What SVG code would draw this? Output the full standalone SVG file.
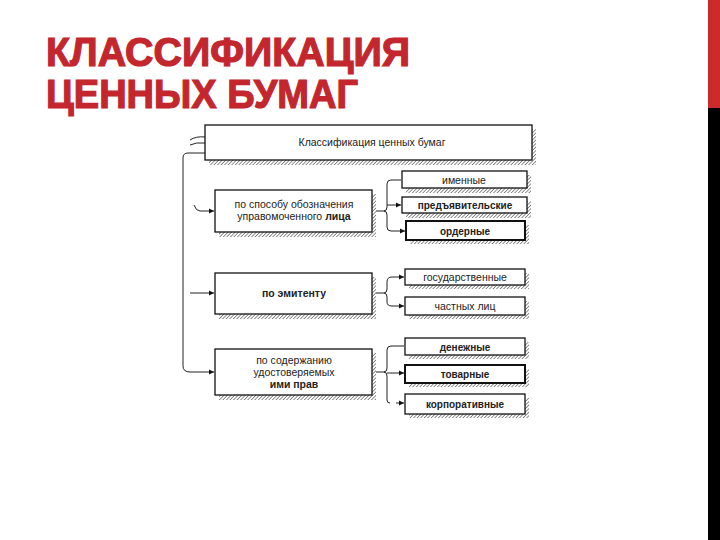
<svg xmlns="http://www.w3.org/2000/svg" width="720" height="540" viewBox="0 0 720 540">
<defs>
<pattern id="hatch" width="2.5" height="2.5" patternUnits="userSpaceOnUse" patternTransform="rotate(45)">
<rect width="2.5" height="2.5" fill="#fff"/>
<line x1="0" y1="0" x2="0" y2="2.5" stroke="#333" stroke-width="1.1"/>
</pattern>
<marker id="arr" markerWidth="6" markerHeight="6" refX="5" refY="3" orient="auto" markerUnits="userSpaceOnUse">
<path d="M0,0.5 L5,3 L0,5.5 Z" fill="#111"/>
</marker>
<style>
.box{fill:#fff;stroke:#111;stroke-width:1.3}
.thick{stroke-width:2}
.sh{fill:url(#hatch)}
.t{font-family:"Liberation Sans",Arial,sans-serif;font-size:10.5px;fill:#222;text-anchor:middle}
.s{font-size:10px}
.b{font-weight:bold}
.c{fill:none;stroke:#222;stroke-width:1}
.title{font-family:"Liberation Sans",Arial,sans-serif;font-weight:bold;font-size:40px;fill:#c4262e;stroke:#c4262e;stroke-width:1.2}
</style>
</defs>
<rect width="720" height="540" fill="#fff"/>
<rect x="708" y="0" width="12" height="108" fill="#cc2b2b"/>
<rect x="708" y="108" width="12" height="432" fill="#000"/>
<g id="title">
<text class="title" x="46" y="66" textLength="364" lengthAdjust="spacingAndGlyphs">КЛАССИФИКАЦИЯ</text>
<text class="title" x="46" y="108" textLength="312" lengthAdjust="spacingAndGlyphs">ЦЕННЫХ БУМАГ</text>
</g>
<g id="connectors">
<path class="c" d="M190,140 Q196,136 205,137"/>
<path class="c" d="M190,145 Q196,142 205,143"/>
<path class="c" d="M205,153 L188,153 Q183,153 183,158 L183,366 Q183,372 190,372 L214,372" marker-end="url(#arr)"/>
<path class="c" d="M194,205 Q196,211 200,211 L214,211" marker-end="url(#arr)"/>
<path class="c" d="M190,293 L214,293" marker-end="url(#arr)"/>
<path class="c" d="M372,211 L385,211"/>
<path class="c" d="M401,180 L391,180 Q387,180 387,184 L387,207 Q387,211 384,211 Q387,211 387,215 L387,227 Q387,231 391,231 L405,231" marker-end="url(#arr)"/>
<path class="c" d="M387,205 L401,205" marker-end="url(#arr)"/>
<path class="c" d="M372,293 L384,293 Q387,293 387,289 L387,282 Q387,277 392,277 L404,277" marker-end="url(#arr)"/>
<path class="c" d="M384,293 Q387,293 387,297 L387,302 Q387,306 392,306 L404,306" marker-end="url(#arr)"/>
<path class="c" d="M372,372 L385,372"/>
<path class="c" d="M404,346 L391,346 Q387,346 387,350 L387,368 Q387,372 384,372 Q387,372 387,376 L387,400 Q387,403 390,403"/>
<path class="c" d="M387,373 L404,373" marker-end="url(#arr)"/>
<path class="c" d="M396,403 L404,403" marker-end="url(#arr)"/>
</g>
<g id="n0">
<rect class="sh" x="209" y="129" width="327" height="36"/>
<rect class="box" x="205" y="125" width="327" height="35"/>
<text class="t" x="372" y="146">Классификация ценных бумаг</text>
</g>
<g id="n1">
<rect class="sh" x="219" y="194" width="157" height="43"/>
<rect class="box" x="215" y="190" width="157" height="42"/>
<text class="t" x="294" y="208">по способу обозначения</text>
<text class="t" x="294" y="220">управомоченного <tspan class="b">лица</tspan></text>
</g>
<g id="n1a">
<rect class="sh" x="406" y="175" width="125" height="18"/>
<rect class="box" x="402" y="171" width="125" height="17"/>
<text class="t" x="464" y="183.5">именные</text>
</g>
<g id="n1b">
<rect class="sh" x="406" y="201" width="125" height="17"/>
<rect class="box" x="402" y="197" width="125" height="16"/>
<text class="t s b" x="465" y="209">предъявительские</text>
</g>
<g id="n1c">
<rect class="sh" x="410" y="225" width="119" height="19"/>
<rect class="box thick" x="406" y="221" width="119" height="19"/>
<text class="t s b" x="465" y="234.5">ордерные</text>
</g>
<g id="n2">
<rect class="sh" x="219" y="277" width="157" height="42"/>
<rect class="box" x="215" y="273" width="157" height="41"/>
<text class="t b" x="294" y="297">по эмитенту</text>
</g>
<g id="n2a">
<rect class="sh" x="409" y="273" width="120" height="16"/>
<rect class="box" x="405" y="269" width="120" height="16"/>
<text class="t" x="465" y="281">государственные</text>
</g>
<g id="n2b">
<rect class="sh" x="409" y="301" width="120" height="18"/>
<rect class="box" x="405" y="297" width="120" height="18"/>
<text class="t" x="465" y="310">частных лиц</text>
</g>
<g id="n3">
<rect class="sh" x="219" y="353" width="157" height="47"/>
<rect class="box" x="215" y="349" width="157" height="46"/>
<text class="t" x="294" y="364">по содержанию</text>
<text class="t" x="294" y="376">удостоверяемых</text>
<text class="t b" x="294" y="388">ими прав</text>
</g>
<g id="n3a">
<rect class="sh" x="409" y="342" width="120" height="17"/>
<rect class="box" x="405" y="338" width="120" height="17"/>
<text class="t s b" x="465" y="350.5">денежные</text>
</g>
<g id="n3b">
<rect class="sh" x="409" y="369" width="120" height="18"/>
<rect class="box thick" x="405" y="365" width="120" height="18"/>
<text class="t s b" x="465" y="378">товарные</text>
</g>
<g id="n3c">
<rect class="sh" x="409" y="398" width="120" height="20"/>
<rect class="box" x="405" y="394" width="120" height="20"/>
<text class="t s b" x="465" y="408">корпоративные</text>
</g>
</svg>
